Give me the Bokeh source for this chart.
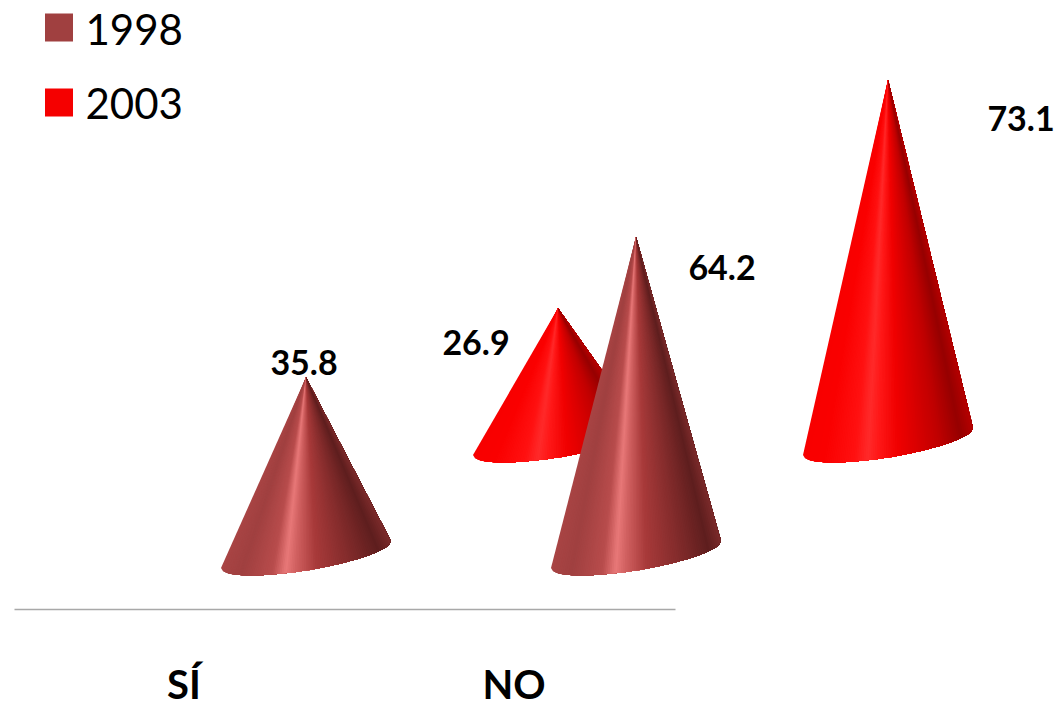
import numpy as np
from bokeh.plotting import figure
from bokeh.models import ColumnDataSource, Range1d
from bokeh.core.properties import value
from bokeh.embed import file_html
from bokeh.resources import INLINE

categories = ["SÍ", "NO"]
series_names = ["1998", "2003"]
values_1998 = [35.8, 64.2]
values_2003 = [26.9, 73.1]
label_texts_1998 = ["35.8", "64.2"]
label_texts_2003 = ["26.9", "73.1"]

# Scales: 330 px per category, 4.95 px per value unit
W, H = 1059, 708
PX_X, PX_Y = 330.0, 4.95
ORIGIN_X, ORIGIN_Y = 305.5, 554.0   # picture pixel of category 0, value 0 (1998 row)
xr = Range1d((0 - ORIGIN_X) / PX_X, (W - ORIGIN_X) / PX_X)
yr = Range1d((ORIGIN_Y - H) / PX_Y, ORIGIN_Y / PX_Y)

def dx(px):
    return px / PX_X

def dy(px):
    return px / PX_Y

p = figure(width=W, height=H, x_range=xr, y_range=yr, output_backend="svg",
           toolbar_location=None, min_border=0, outline_line_color=None,
           background_fill_color="white", x_axis_type=None, y_axis_type=None)
p.grid.visible = False

# shading stops: position across the cone (0 left, 1 right) and colour
STOPS = [0.0, 0.12, 0.30, 0.38, 0.44, 0.56, 0.80, 0.93, 1.0]
SHADE_1998 = ["#a84444", "#a04040", "#b84c4c", "#e87878", "#d06060", "#a83a3a", "#7a2828", "#5e1e1e", "#7a2a2a"]
SHADE_2003 = ["#f80000", "#fa0000", "#ff1010", "#ff2a2a", "#ff1818", "#f00000", "#c00000", "#960000", "#b40000"]
N_SLICES = 90
HALF_W, TILT, BULGE = 85.0, 13.5, 16.0   # base ellipse, in pixels

def shade(u, stops):
    rgb = np.array([[int(c[i:i + 2], 16) for i in (1, 3, 5)] for c in stops], float)
    return "#%02x%02x%02x" % tuple(int(round(np.interp(u, STOPS, rgb[:, k]))) for k in range(3))

def draw_cone(cx, base, val, stops):
    us = np.linspace(0, 1, N_SLICES + 1)
    ts = np.arccos(1 - 2 * us)  # t = 0 at left edge
    bx = cx + dx(-HALF_W * np.cos(ts))
    by = base + dy(TILT * -np.cos(ts) - BULGE * np.sin(ts))
    tip_x, tip_y = cx, base + val
    xs, ys, cols = [], [], []
    # each slice paints everything to its right, so no seams can show between slices
    for i in range(N_SLICES):
        xs.append([tip_x] + list(bx[i:]))
        ys.append([tip_y] + list(by[i:]))
        cols.append(shade((us[i] + us[i + 1]) / 2, stops))
    src = ColumnDataSource(dict(xs=xs, ys=ys, c=cols))
    p.patches("xs", "ys", source=src, fill_color="c", line_color=None)

# 2003 row sits behind and to the right of the 1998 row
DEPTH_X = dx(252)
DEPTH_Y = dy(113)

for i in range(len(categories)):
    draw_cone(i + DEPTH_X, DEPTH_Y, values_2003[i], SHADE_2003)
for i in range(len(categories)):
    draw_cone(i, 0, values_1998[i], SHADE_1998)

# floor line
p.segment(x0=[dx(14 - ORIGIN_X)], y0=[dy(ORIGIN_Y - 609)], x1=[dx(675 - ORIGIN_X)], y1=[dy(ORIGIN_Y - 609)],
          line_color="#a8a8a8", line_width=1.3)

FONT = value("Lato")

# category labels
cat_x = [i + dx(-122) for i in range(len(categories))]
cat_y = [dy(ORIGIN_Y - 683)] * len(categories)
p.text(cat_x, cat_y, text=categories, text_font=FONT, text_font_style="bold", text_font_size="40px",
       text_align="center", text_baseline="middle", text_color="#000000")

# value labels, placed relative to each cone's tip
lab_x = [0 + dx(-2), 1 + dx(86), 0 + DEPTH_X + dx(-82), 1 + DEPTH_X + dx(133)]
lab_y = [values_1998[0] + dy(15), values_1998[1] + dy(-31),
         DEPTH_Y + values_2003[0] + dy(-34), DEPTH_Y + values_2003[1] + dy(-39)]
lab_t = [label_texts_1998[0], label_texts_1998[1], label_texts_2003[0], label_texts_2003[1]]
p.text(lab_x, lab_y, text=lab_t, text_font=FONT, text_font_style="bold", text_font_size="34px",
       text_align="center", text_baseline="middle", text_color="#000000")

# legend
leg_x = [dx(58.5 - ORIGIN_X)] * 2
leg_y = [dy(ORIGIN_Y - 27), dy(ORIGIN_Y - 102)]
p.scatter(leg_x, leg_y, marker="square", size=28, fill_color=["#a04040", "#f50000"], line_color=None)
p.text([dx(85 - ORIGIN_X)] * 2, [dy(ORIGIN_Y - 29), dy(ORIGIN_Y - 103)], text=series_names, text_font=FONT,
       text_font_size="42px", text_align="left", text_baseline="middle", text_color="#000000")

open("out.html", "w").write(file_html(p, INLINE))
